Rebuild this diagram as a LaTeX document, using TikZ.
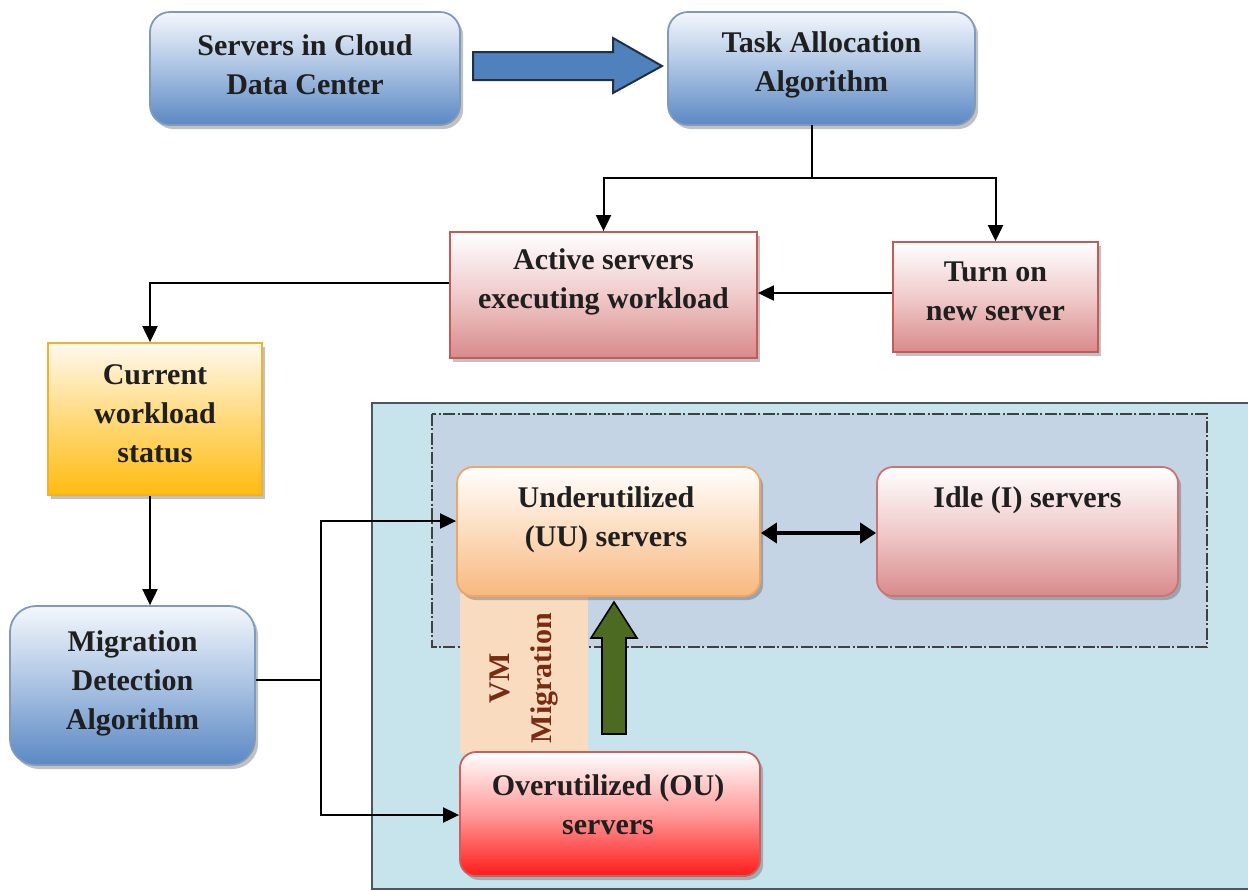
\documentclass[tikz,border=0pt]{standalone}
\usepackage{fontspec}
\setmainfont{Liberation Serif}
\usetikzlibrary{arrows.meta,shadows}

\definecolor{bluetop}{HTML}{F4F7FC}
\definecolor{bluemid}{HTML}{A9C2E2}
\definecolor{bluebot}{HTML}{5B88C4}
\definecolor{blueline}{HTML}{8199BA}
\definecolor{redmid}{HTML}{F0CACA}
\definecolor{redbot}{HTML}{D98A8B}
\definecolor{redline}{HTML}{C55A58}
\definecolor{yelltop}{HTML}{FFF9EE}
\definecolor{yellmid}{HTML}{FFD97A}
\definecolor{yellbot}{HTML}{FFBB10}
\definecolor{yellline}{HTML}{F0B030}
\definecolor{peachmid}{HTML}{FCDCBE}
\definecolor{peachbot}{HTML}{F8B87E}
\definecolor{peachline}{HTML}{F2A560}
\definecolor{ouline}{HTML}{C8605E}
\definecolor{oumid}{HTML}{FF9A9A}
\definecolor{oubot}{HTML}{FF1A1A}
\definecolor{panelfill}{HTML}{C7E4EC}
\definecolor{panelline}{HTML}{4C5660}
\definecolor{groupfill}{HTML}{C4D4E4}
\definecolor{vmfill}{HTML}{F9DBC0}
\definecolor{vmtext}{HTML}{7A2C12}
\definecolor{flowblue}{HTML}{4F81BD}
\definecolor{flowline}{HTML}{1F2F48}
\definecolor{moveg}{HTML}{4D6A22}

\tikzset{
  boxtext/.style={font=\bfseries\fontsize{15}{19.5}\selectfont, align=center,
    text=black!88, inner sep=0pt},
  basebox/.style={rectangle, inner sep=0pt, line width=0.9pt,
    drop shadow={shadow xshift=1.6pt, shadow yshift=-2pt, opacity=0.35, fill=black!70}},
  bluebox/.style={basebox, draw=blueline, top color=bluetop, bottom color=bluebot,
    middle color=bluemid},
  redbox/.style={basebox, draw=redline, top color=white, bottom color=redbot,
    middle color=redmid},
  yellbox/.style={basebox, draw=yellline, top color=yelltop, bottom color=yellbot,
    middle color=yellmid},
  peachbox/.style={basebox, draw=peachline, top color=white, bottom color=peachbot,
    middle color=peachmid},
  idlebox/.style={basebox, draw=redline!85, top color=white, bottom color=redbot,
    middle color=redmid},
  oubox/.style={basebox, draw=ouline, top color=white, bottom color=oubot,
    middle color=oumid},
  conn/.style={line width=1pt, black},
  tip/.style={-{Triangle[length=8pt,width=7.5pt]}},
}

\begin{document}
\begin{tikzpicture}[x=0.5pt, y=-0.5pt]
\useasboundingbox (0,0) rectangle (1248,890);

% ---- migration panel and the grouping of light-load servers ----
\draw[fill=panelfill, draw=panelline, line width=0.9pt] (372,403) rectangle (1252,889);
\draw[fill=groupfill, draw=black!75, line width=0.7pt,
      dash pattern=on 6pt off 1.2pt on 1pt off 1.2pt] (432,414) rectangle (1207,647);

% ---- boxes ----
\node[bluebox, rounded corners=10pt, minimum width=155pt, minimum height=56.5pt]
  (cloud) at (305,68.5) {};
\node[boxtext] (cloudtxt) at (305,65) {Servers in Cloud\\Data Center};

\node[bluebox, rounded corners=10pt, minimum width=153.5pt, minimum height=56.5pt]
  (task) at (821.5,68.5) {};
\node[boxtext] (tasktxt) at (821.5,65) {Task Allocation\\Algorithm};

\node[redbox, minimum width=153.5pt, minimum height=63pt] (active) at (603.5,295) {};
\node[boxtext] (activetxt) at (603.5,282) {Active servers\\executing workload};

\node[redbox, minimum width=102.5pt, minimum height=55pt] (turnon) at (995.5,297) {};
\node[boxtext] (turnontxt) at (995.5,291) {Turn on\\new server};

\node[yellbox, minimum width=107pt, minimum height=76pt] (current) at (155,419) {};
\node[boxtext] (currenttxt) at (155,414) {Current\\workload\\status};

\node[bluebox, rounded corners=13pt, minimum width=122.5pt, minimum height=79.5pt]
  (detect) at (132.5,685.5) {};
\node[boxtext] (detecttxt) at (132.5,683) {Migration\\Detection\\Algorithm};

% VM migration strip between the OU and UU boxes
\node[fill=vmfill, inner sep=0pt, minimum width=64pt, minimum height=80pt]
  (vm) at (524,674) {};
\node[font=\bfseries\fontsize{15}{21}\selectfont, align=center, text=vmtext,
      rotate=90, inner sep=0pt] (vmtxt) at (524,678) {VM\\Migration};

\node[peachbox, rounded corners=8pt, minimum width=151.5pt, minimum height=64.5pt]
  (uu) at (608.5,531.5) {};
\node[boxtext] (uutxt) at (606,520) {Underutilized\\(UU) servers};

\node[idlebox, rounded corners=8pt, minimum width=150.5pt, minimum height=64.5pt]
  (idle) at (1027.5,531.5) {};
\node[boxtext] (idletxt) at (1027.5,500) {Idle (I) servers};

\node[oubox, rounded corners=8pt, minimum width=150pt, minimum height=62pt]
  (ou) at (610,814) {};
\node[boxtext] (outxt) at (608,805) {Overutilized (OU)\\servers};

% ---- block arrows ----
\draw[fill=flowblue, draw=flowline, line width=1pt, line join=miter]
  (473,52) -- (613,52) -- (613,38) -- (662,66) -- (613,93) -- (613,80) -- (473,80) -- cycle;
\draw[fill=moveg, draw=black, line width=0.8pt, line join=miter]
  (602,734) -- (602,638) -- (591,638) -- (614,602) -- (637,638) -- (626,638)
  -- (626,734) -- cycle;

% ---- connectors ----
\coordinate (split) at (812,178);
\draw[conn] (812,125) -- (split);
\draw[conn, tip] (split) -| (active.north);
\draw[conn, tip] (split) -| (turnon.north);
\draw[conn, tip] (turnon.west |- 0,293) -- (active.east |- 0,293);
\draw[conn, tip] (active.west |- 0,283) -| (current.north -| 150,0);
\draw[conn, tip] (current.south -| 150,0) -- (detect.north -| 150,0);

\coordinate (fork) at (321,680);
\draw[conn] (detect.east |- fork) -- (fork);
\draw[conn, tip] (fork) |- (uu.west |- 0,521);
\draw[conn, tip] (fork) |- (ou.west |- 0,815);

\draw[line width=2pt, {Triangle[length=8pt,width=10pt]}-{Triangle[length=8pt,width=10pt]}]
  (uu.east |- 0,533) -- (idle.west |- 0,533);
\end{tikzpicture}
\end{document}
